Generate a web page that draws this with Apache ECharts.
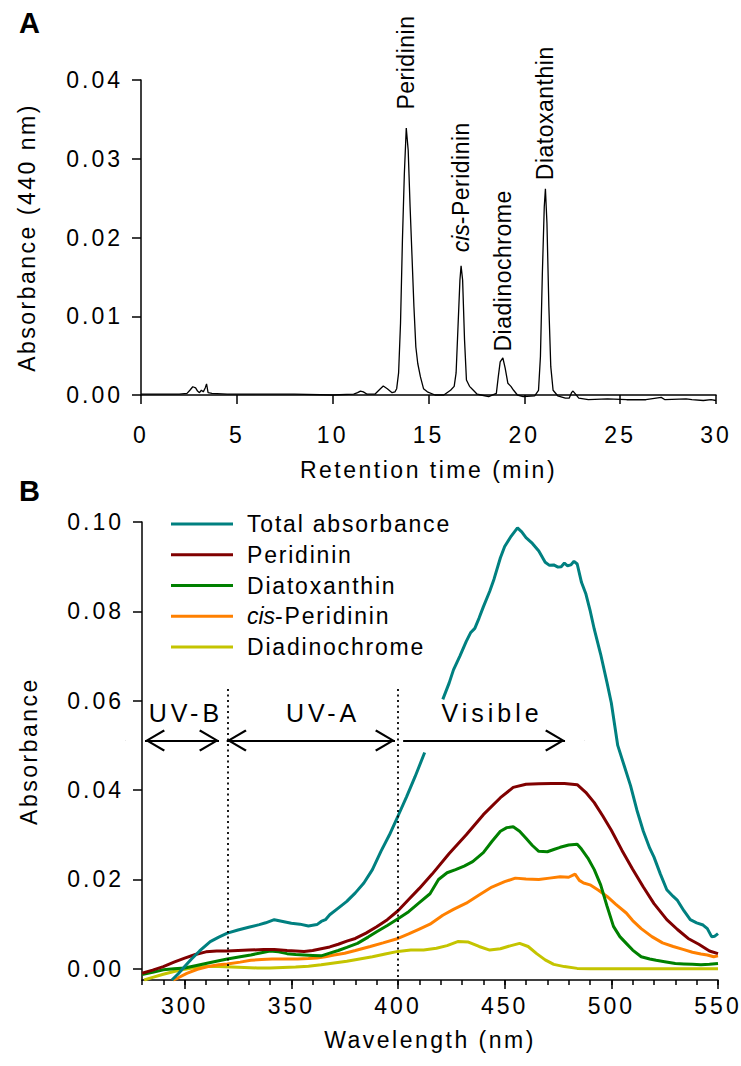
<!DOCTYPE html>
<html>
<head>
<meta charset="utf-8">
<script src="https://cdn.jsdelivr.net/npm/echarts@6.0.0/dist/echarts.min.js"></script>
<style>
html, body { margin: 0; padding: 0; background: #fff; }
#chart { width: 741px; height: 1066px; }
/* SigmaPlot-like spaced lettering, matched by the font-family tag */
#chart text[style*="ls_tick"] { letter-spacing: 3px; }
#chart text[style*="ls_title"] { letter-spacing: 2.5px; }
#chart text[style*="ls_leg"] { letter-spacing: 1.8px; }
#chart text[style*="ls_peak"] { letter-spacing: 0.5px; }
#chart text[style*="ls_uv"] { letter-spacing: 4px; }
</style>
</head>
<body>
<div id="chart"></div>
<script>
// ---- panel A: chromatogram at 440 nm ----
var retTime = [0, 1, 2, 2.4, 2.55, 2.7, 2.85, 2.95, 3.05, 3.15, 3.25, 3.35, 3.42, 3.5, 3.7, 4.5, 6, 8, 10,
    11.1, 11.3, 11.45, 11.6, 11.8, 12.2, 12.45, 12.64, 12.85, 13.1, 13.25, 13.34, 13.44, 13.54, 13.64, 13.74,
    13.84, 13.94, 14.04, 14.14, 14.24, 14.34, 14.44, 14.58, 14.74, 14.94, 15.34, 15.8, 16.15, 16.34, 16.44,
    16.54, 16.64, 16.7, 16.78, 16.88, 16.98, 17.14, 17.34, 17.54, 17.74, 18.14, 18.54, 18.64, 18.74, 18.88,
    19.0, 19.14, 19.3, 19.44, 19.64, 19.94, 20.54, 20.74, 20.84, 20.94, 21.04, 21.1, 21.18, 21.28, 21.38,
    21.5, 21.74, 22.14, 22.34, 22.46, 22.54, 22.64, 22.84, 23.34, 24.34, 25.34, 26.34, 27.14, 27.34, 28.44,
    28.74, 29.34, 29.74, 30];
var absA = [0.0001, 0.0001, 0.0001, 0.0002, 0.0006, 0.00105, 0.0009, 0.0005, 0.0003, 0.0006, 0.0004, 0.0009, 0.0014, 0.0003, 0.0002, 0.0001, 0.0001, 0.0001, 0.0,
    0.0001, 0.0003, 0.0005, 0.0004, 0.0001, 0.0001, 0.0007, 0.00114, 0.0008, 0.0003, 0.0004, 0.0008, 0.0028, 0.0091, 0.0197, 0.0281,
    0.0339, 0.0311, 0.0239, 0.0176, 0.0112, 0.0061, 0.0040, 0.0023, 0.0008, 0.0004, 0.0, 0.0, 0.0006, 0.0011, 0.0028,
    0.0087, 0.0146, 0.0164, 0.0146, 0.0070, 0.0019, 0.0011, 0.0006, 0.0001, 0.0, -0.0002, 0.0002, 0.0023, 0.0042, 0.0047,
    0.0034, 0.0015, 0.0011, 0.0006, 0.0, -0.0002, -0.0001, 0.0006, 0.0049, 0.0154, 0.0239, 0.0262, 0.0218, 0.0112, 0.0036,
    0.0006, -0.0001, -0.0004, -0.0004, 0.0003, 0.0005, 0.0002, -0.0004, -0.0006, -0.0005, -0.0006, -0.0006, -0.0003, -0.0006, -0.0005,
    -0.0006, -0.0007, -0.0006, -0.0007];

var peakNames = ['Peridinin', 'cis-Peridinin', 'Diadinochrome', 'Diatoxanthin'];
var peakTime = [13.84, 16.7, 18.88, 21.1];
var peakAbs = [0.0339, 0.0164, 0.0047, 0.0262];
var peakGap = [18, 13, 6, 8];

// ---- panel B: absorption spectra ----
var totalNm = [294, 297, 300, 303, 307, 312, 316, 320, 325, 330, 335, 338, 342, 346, 350, 354, 358, 362, 364, 366,
    368, 372, 376, 380, 384, 388, 392, 396, 400, 404, 408, 412.5, 416, 421, 424, 426, 429, 432, 434, 436, 438, 440,
    443, 445, 448, 450, 453, 456, 458, 460, 463, 466, 469, 471, 473, 475, 476.5, 478, 479.5, 481, 482.5, 484, 486,
    488, 490, 492, 495, 498, 500, 503, 506, 509, 512, 515, 518, 520, 523, 526, 529, 531, 534, 537, 540, 543, 545,
    547, 548.5, 550];
var totalAbs = [-0.0025, -0.0011, 0.0005, 0.0021, 0.0040, 0.0061, 0.0071, 0.0080, 0.0087, 0.0093, 0.0099, 0.0103, 0.0110, 0.0106, 0.0102, 0.0100, 0.0096, 0.0099, 0.0106, 0.0110,
    0.0121, 0.0136, 0.0151, 0.0170, 0.0192, 0.0222, 0.0263, 0.0300, 0.0342, 0.0385, 0.0430, 0.0484, null, 0.0603, 0.0640, 0.0669, 0.0700, 0.0733, 0.0752, 0.0762, 0.0785, 0.0810,
    0.0845, 0.0872, 0.0920, 0.0945, 0.0968, 0.0987, 0.0978, 0.0965, 0.0952, 0.0935, 0.0910, 0.0903, 0.0904, 0.0899, 0.0900, 0.0908, 0.0902, 0.0904, 0.0912, 0.0906, 0.0865,
    0.0840, 0.0803, 0.0760, 0.0704, 0.0640, 0.0595, 0.0500, 0.0455, 0.0410, 0.0355, 0.0308, 0.0270, 0.0250, 0.0212, 0.0177, 0.0162, 0.0153, 0.0130, 0.0110, 0.0103, 0.0098, 0.0090,
    0.0072, 0.0073, 0.0079];

var perNm = [280, 285, 290, 295, 300, 305, 310, 315, 320, 325, 330, 337, 342, 348, 352, 356, 360, 364, 368, 372,
    376, 380, 385, 390, 395, 400, 405, 410, 416, 424, 432, 440, 448, 454, 460, 466, 472, 478, 484, 488, 492, 496,
    500, 505, 510, 515, 520, 526, 531, 536, 541, 546, 550];
var perAbs = [-0.0010, -0.0003, 0.0005, 0.0015, 0.0024, 0.0032, 0.0038, 0.0040, 0.0040, 0.0041, 0.0042, 0.0043, 0.0043, 0.0041, 0.0040, 0.0039, 0.0041, 0.0045, 0.0049, 0.0055,
    0.0062, 0.0068, 0.0080, 0.0094, 0.0110, 0.0130, 0.0155, 0.0180, 0.0212, 0.0258, 0.0300, 0.0345, 0.0383, 0.0406, 0.0413, 0.0414, 0.0415, 0.0415, 0.0412, 0.0395, 0.0372, 0.0342,
    0.0310, 0.0265, 0.0223, 0.0183, 0.0146, 0.0110, 0.0088, 0.0068, 0.0055, 0.0040, 0.0034];

var diatoNm = [280, 285, 290, 295, 300, 305, 311, 316, 320, 326, 331, 336, 340, 344, 348, 352, 356, 360, 364, 368,
    372, 376, 381, 386, 390, 395, 400, 405, 410, 415, 419, 423, 427, 431, 435, 440, 444, 448, 451, 454, 457, 460,
    463, 466, 470, 473, 476, 480, 484, 486, 489, 492, 495, 498, 501, 504, 507, 510, 514, 518, 521, 525, 530, 534,
    538, 542, 546, 550];
var diatoAbs = [-0.0013, -0.0008, -0.0002, 0.0000, 0.0002, 0.0007, 0.0013, 0.0018, 0.0022, 0.0027, 0.0031, 0.0036, 0.0040, 0.0038, 0.0034, 0.0032, 0.0031, 0.0030, 0.0029, 0.0035,
    0.0041, 0.0048, 0.0057, 0.0071, 0.0083, 0.0097, 0.0112, 0.0128, 0.0148, 0.0168, 0.0200, 0.0215, 0.0222, 0.0230, 0.0240, 0.0260, 0.0285, 0.0308, 0.0316, 0.0318, 0.0308, 0.0292,
    0.0276, 0.0263, 0.0262, 0.0267, 0.0272, 0.0277, 0.0279, 0.0268, 0.0248, 0.0222, 0.0188, 0.0140, 0.0095, 0.0072, 0.0057, 0.0042, 0.0027, 0.0022, 0.0019, 0.0016, 0.0012, 0.0011,
    0.0010, 0.0009, 0.0010, 0.0012];

var cisNm = [294.5, 297, 301, 306, 311, 316, 320, 326, 331, 336, 341, 347, 353, 358, 362, 366, 370, 375, 380, 387,
    393, 400, 405, 410, 415, 421, 426, 432, 438, 444, 450, 455, 460, 466, 471, 476, 480, 483, 485, 487, 490, 494,
    498, 502, 507, 510, 514, 519, 524, 529, 534, 538, 542, 545, 548, 550];
var cisAbs = [-0.0025, -0.0020, -0.0010, -0.0001, 0.0005, 0.0009, 0.0011, 0.0015, 0.0019, 0.0021, 0.0022, 0.0022, 0.0022, 0.0023, 0.0024, 0.0027, 0.0031, 0.0035, 0.0041, 0.0050,
    0.0058, 0.0068, 0.0078, 0.0089, 0.0100, 0.0120, 0.0133, 0.0147, 0.0165, 0.0183, 0.0195, 0.0203, 0.0201, 0.0200, 0.0203, 0.0206, 0.0205, 0.0212, 0.0198, 0.0192, 0.0188, 0.0176,
    0.0162, 0.0145, 0.0125, 0.0108, 0.0090, 0.0072, 0.0058, 0.0050, 0.0043, 0.0037, 0.0033, 0.0031, 0.0027, 0.0029];

var diadNm = [281, 285, 290, 295, 300, 305, 310, 316, 322, 328, 334, 340, 346, 352, 358, 364, 370, 376, 382, 388,
    394, 400, 406, 412, 418, 423, 428, 433, 438, 443, 448, 453, 457, 461, 465, 469, 473, 478, 484, 490, 500, 510,
    520, 530, 540, 550];
var diadAbs = [-0.0025, -0.0019, -0.0012, -0.0006, -0.0001, 0.0003, 0.0005, 0.0005, 0.0004, 0.0003, 0.0002, 0.0002, 0.0003, 0.0004, 0.0006, 0.0009, 0.0013, 0.0017, 0.0022, 0.0027,
    0.0033, 0.0039, 0.0042, 0.0042, 0.0046, 0.0052, 0.0061, 0.0060, 0.0050, 0.0042, 0.0045, 0.0052, 0.0057, 0.0050, 0.0034, 0.0020, 0.0010, 0.0005, 0.0001, 0.0000, 0.0000, 0.0000,
    0.0000, 0.0000, 0.0000, 0.0000];

var yTicksB = [0, 0.02, 0.04, 0.06, 0.08, 0.10];
var xMajorB = [300, 350, 400, 450, 500, 550];
var xMinorB = [280, 290, 300, 310, 320, 330, 340, 350, 360, 370, 380, 390, 400, 410, 420, 430, 440, 450, 460, 470,
    480, 490, 500, 510, 520, 530, 540, 550];

// spectral regions
var regionNames = ['UV-B', 'UV-A', 'Visible'];
var regionTextNm = [300.6, 364.9, 444.1];
var regionTextAbs = 0.0573;
var arrowFrom = [281.4, 319.7, 402.4];
var arrowTo = [316.1, 398.6, 478.3];
var arrowBoth = [true, true, false];
var arrowAbs = 0.0511;
var boundaryNm = [320, 400];
var boundaryTop = 0.0626;
var boundaryBottom = -0.0025;

var colors = ['#008080', '#800000', '#008000', '#ff8000', '#c4c400'];

function pairs(xs, ys) {
    return xs.map(function (x, i) { return [x, ys[i]]; });
}

var tickFont = 'Liberation Sans, ls_tick';
var titleFont = 'Liberation Sans, ls_title';
var legFont = 'Liberation Sans, ls_leg';
var peakFont = 'Liberation Sans, ls_peak';
var uvFont = 'Liberation Sans, ls_uv';

// open arrow head, tip sits at the symbol centre
var chevron = 'path://M11,0L11.3,0.3L10.7,0.3Z M11,20L22,38.6L20.3,40L11,24L1.7,40L0,38.6Z';

var axisLineStyle = {color: '#000', width: 1.5};

var chartDom = document.getElementById('chart');
var myChart = echarts.init(chartDom, null, {renderer: 'svg'});

var specSeries = [
    {name: 'Diadinochrome', nm: diadNm, abs: diadAbs, color: colors[4]},
    {name: 'cis-Peridinin', nm: cisNm, abs: cisAbs, color: colors[3]},
    {name: 'Diatoxanthin', nm: diatoNm, abs: diatoAbs, color: colors[2]},
    {name: 'Peridinin', nm: perNm, abs: perAbs, color: colors[1]},
    {name: 'Total absorbance', nm: totalNm, abs: totalAbs, color: colors[0]}
].map(function (s) {
    return {
        name: s.name,
        type: 'line',
        xAxisIndex: 1,
        yAxisIndex: 1,
        data: pairs(s.nm, s.abs),
        symbol: 'none',
        color: s.color,
        itemStyle: {color: s.color},
        lineStyle: {color: s.color, width: 3},
        connectNulls: false,
        silent: true
    };
});

var arrowLines = arrowFrom.map(function (a, i) {
    return [
        {coord: [a, arrowAbs], symbol: arrowBoth[i] ? chevron : 'none', symbolSize: [22, 40]},
        {coord: [arrowTo[i], arrowAbs], symbol: chevron, symbolSize: [22, 40]}
    ];
});

var option = {
    animation: false,
    backgroundColor: '#fff',
    title: [
        {text: 'A', left: 19, top: 8, padding: 0, textStyle: {fontSize: 29, fontWeight: 'bold', fontFamily: 'Liberation Sans', color: '#000'}},
        {text: 'B', left: 19, top: 476, padding: 0, textStyle: {fontSize: 29, fontWeight: 'bold', fontFamily: 'Liberation Sans', color: '#000'}}
    ],
    grid: [
        {left: 141, right: 25, top: 80, bottom: 671},
        {left: 142, right: 23, top: 522, bottom: 86}
    ],
    legend: {
        data: ['Total absorbance', 'Peridinin', 'Diatoxanthin', 'cis-Peridinin', 'Diadinochrome'],
        orient: 'vertical',
        left: 171,
        top: 511,
        padding: 0,
        icon: 'rect',
        itemWidth: 62,
        itemHeight: 3,
        itemGap: 4.75,
        selectedMode: false,
        formatter: function (name) {
            return name === 'cis-Peridinin' ? '{i|cis}{m|-Peridinin}' : '{n|' + name + '}';
        },
        textStyle: {
            fontSize: 23, fontFamily: legFont, color: '#000', lineHeight: 26,
            rich: {
                i: {fontSize: 23, fontFamily: 'Liberation Sans', fontStyle: 'italic', color: '#000', padding: [0, 0, 0, 9]},
                m: {fontSize: 23, fontFamily: legFont, color: '#000'},
                n: {fontSize: 23, fontFamily: legFont, color: '#000', padding: [0, 0, 0, 9]}
            }
        }
    },
    xAxis: [
        {
            gridIndex: 0, type: 'value', min: 0, max: 30, interval: 5, offset: 12,
            axisLine: {show: true, lineStyle: axisLineStyle},
            axisTick: {show: true, inside: false, length: 9, lineStyle: axisLineStyle},
            axisLabel: {fontSize: 23, fontFamily: tickFont, color: '#000', margin: 16},
            splitLine: {show: false},
            name: 'Retention time (min)', nameLocation: 'middle', nameGap: 51,
            nameTextStyle: {fontSize: 23, fontFamily: titleFont, color: '#000'}
        },
        {
            gridIndex: 1, type: 'value', min: 280, max: 550,
            axisLine: {show: true, onZero: false, lineStyle: axisLineStyle},
            axisTick: {show: true, inside: false, length: 9, lineStyle: axisLineStyle, customValues: xMajorB},
            axisLabel: {fontSize: 23, fontFamily: tickFont, color: '#000', margin: 14, customValues: xMajorB},
            splitLine: {show: false},
            name: 'Wavelength (nm)', nameLocation: 'middle', nameGap: 48,
            nameTextStyle: {fontSize: 23, fontFamily: titleFont, color: '#000'}
        },
        {
            gridIndex: 1, type: 'value', min: 280, max: 550, position: 'bottom',
            axisLine: {show: false, onZero: false},
            axisTick: {show: true, inside: false, length: 5, lineStyle: axisLineStyle, customValues: xMinorB},
            axisLabel: {show: false},
            splitLine: {show: false}
        }
    ],
    yAxis: [
        {
            gridIndex: 0, type: 'value', min: 0, max: 0.04, interval: 0.01,
            axisLine: {show: true, lineStyle: axisLineStyle},
            axisTick: {show: true, inside: false, length: 9, lineStyle: axisLineStyle},
            axisLabel: {fontSize: 23, fontFamily: tickFont, color: '#000', margin: 18,
                formatter: function (v) { return v.toFixed(2); }},
            splitLine: {show: false},
            name: 'Absorbance (440 nm)', nameLocation: 'middle', nameGap: 103,
            nameTextStyle: {fontSize: 23, fontFamily: titleFont, color: '#000'}
        },
        {
            gridIndex: 1, type: 'value', min: -0.0025, max: 0.10,
            axisLine: {show: true, onZero: false, lineStyle: axisLineStyle},
            axisTick: {show: true, inside: false, length: 9, lineStyle: axisLineStyle, customValues: yTicksB},
            axisLabel: {fontSize: 23, fontFamily: tickFont, color: '#000', margin: 18, customValues: yTicksB,
                formatter: function (v) { return v.toFixed(2); }},
            splitLine: {show: false},
            name: 'Absorbance', nameLocation: 'middle', nameGap: 102,
            nameTextStyle: {fontSize: 23, fontFamily: titleFont, color: '#000'}
        }
    ],
    series: [
        {
            name: 'chromatogram',
            type: 'line',
            xAxisIndex: 0,
            yAxisIndex: 0,
            data: pairs(retTime, absA),
            symbol: 'none',
            clip: false,
            lineStyle: {color: '#000', width: 1.3},
            silent: true
        },
        {
            name: 'peaks',
            type: 'scatter',
            xAxisIndex: 0,
            yAxisIndex: 0,
            symbolSize: 1,
            itemStyle: {color: 'rgba(0,0,0,0)', opacity: 1},
            silent: true,
            data: peakTime.map(function (t, i) {
                return {value: [t, peakAbs[i]], name: peakNames[i], label: {distance: peakGap[i]}};
            }),
            label: {
                show: true,
                rotate: 90,
                position: 'top',
                align: 'left',
                verticalAlign: 'middle',
                fontSize: 23,
                fontFamily: peakFont,
                color: '#000',
                formatter: function (p) {
                    return p.name === 'cis-Peridinin' ? '{i|cis}-Peridinin' : p.name;
                },
                rich: {i: {fontStyle: 'italic', fontSize: 23, fontFamily: 'Liberation Sans', color: '#000'}}
            }
        }
    ].concat(specSeries).concat([
        {
            name: 'boundaries',
            type: 'line',
            xAxisIndex: 1,
            yAxisIndex: 1,
            data: [],
            silent: true,
            markLine: {
                silent: true,
                symbol: 'none',
                animation: false,
                label: {show: false},
                lineStyle: {color: '#000', width: 1.8, type: [2, 3.5]},
                data: boundaryNm.map(function (nm) {
                    return [{coord: [nm, boundaryTop]}, {coord: [nm, boundaryBottom]}];
                })
            }
        },
        {
            name: 'regions',
            type: 'scatter',
            xAxisIndex: 1,
            yAxisIndex: 1,
            symbolSize: 1,
            itemStyle: {color: 'rgba(0,0,0,0)', opacity: 1},
            silent: true,
            data: regionNames.map(function (n, i) {
                return {value: [regionTextNm[i], regionTextAbs], name: n};
            }),
            label: {
                show: true,
                position: 'inside',
                formatter: '{b}',
                fontSize: 25,
                fontFamily: uvFont,
                color: '#000',
                textBorderWidth: 0
            },
            markLine: {
                silent: true,
                animation: false,
                label: {show: false},
                lineStyle: {color: '#000', width: 2, type: 'solid', opacity: 1},
                data: arrowLines
            }
        }
    ])
};

option && myChart.setOption(option);
</script>
</body>
</html>
